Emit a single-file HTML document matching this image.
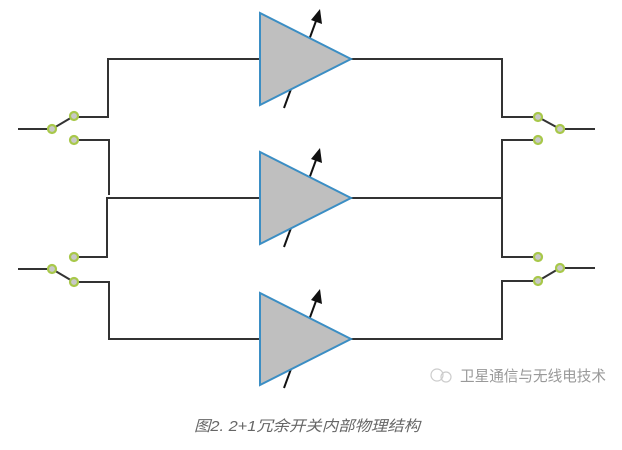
<!DOCTYPE html>
<html><head><meta charset="utf-8"><style>
html,body{margin:0;padding:0;background:#fff;width:622px;height:450px;overflow:hidden}
svg{display:block}
</style></head><body>
<svg width="622" height="450" viewBox="0 0 622 450" xmlns="http://www.w3.org/2000/svg">
<defs>
<g id="amp">
<line x1="284" y1="108" x2="316" y2="21" stroke="#111" stroke-width="2"/>
<polygon points="320,9 311,20 322,24" fill="#111"/>
<polygon points="260,13 260,105 351,59" fill="#bfbfbf" stroke="#3b8ec4" stroke-width="2"/>
</g>
</defs>
<g fill="none" stroke="#333" stroke-width="2">
<polyline points="18,129 52,129"/>
<polyline points="52,129 74,116"/>
<polyline points="74,117 108,117 108,59 260,59"/>
<polyline points="74,140 109,140 109,195"/>
<polyline points="260,198 107,198 107,257 74,257"/>
<polyline points="18,269 52,269"/>
<polyline points="52,269 74,282"/>
<polyline points="74,282 109,282 109,339 260,339"/>
<polyline points="351,59 502,59 502,117 538,117"/>
<polyline points="538,117 560,129 595,129"/>
<polyline points="538,140 502,140 502,257 538,257"/>
<polyline points="351,198 502,198"/>
<polyline points="351,339 502,339 502,281 538,281"/>
<polyline points="538,281 560,268 595,268"/>
</g>
<use href="#amp"/>
<use href="#amp" transform="translate(0,139)"/>
<use href="#amp" transform="translate(0,280)"/>
<g fill="#c8c8c8" stroke="#a8c84a" stroke-width="2.2">
<circle cx="52" cy="129" r="4"/><circle cx="74" cy="116" r="4"/><circle cx="74" cy="140" r="4"/>
<circle cx="74" cy="257" r="4"/><circle cx="52" cy="269" r="4"/><circle cx="74" cy="282" r="4"/>
<circle cx="538" cy="117" r="4"/><circle cx="560" cy="129" r="4"/><circle cx="538" cy="140" r="4"/>
<circle cx="538" cy="257" r="4"/><circle cx="538" cy="281" r="4"/><circle cx="560" cy="268" r="4"/>
</g>
<g fill="none" stroke="#ccc" stroke-width="1.2">
<circle cx="437" cy="375" r="6"/><circle cx="446" cy="377" r="5"/>
</g>
<text x="460" y="381" textLength="146" lengthAdjust="spacingAndGlyphs" font-family="'Liberation Sans','Noto Sans CJK SC',sans-serif" font-size="15" fill="#999">卫星通信与无线电技术</text>
<text x="194" y="431" textLength="226" lengthAdjust="spacingAndGlyphs" font-family="'Liberation Sans','Noto Sans CJK SC',sans-serif" font-size="15" font-style="italic" fill="#666">图2. 2+1冗余开关内部物理结构</text>
</svg>
</body></html>
